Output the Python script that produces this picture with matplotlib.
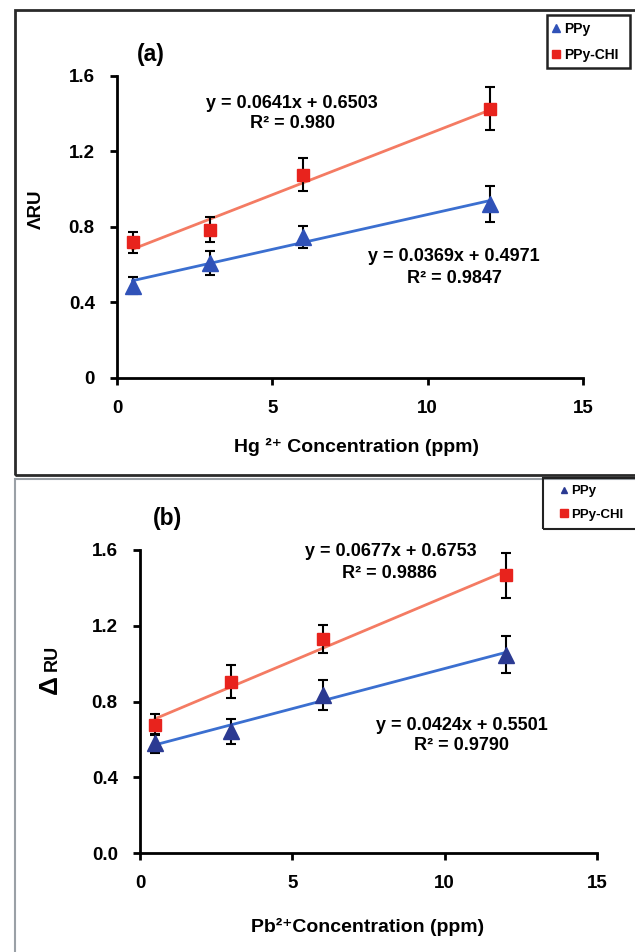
import numpy as np
import matplotlib
matplotlib.use("Agg")
import matplotlib.pyplot as plt
from matplotlib.patches import Rectangle
from matplotlib.lines import Line2D

plt.rcParams['font.family'] = ['Liberation Sans', 'DejaVu Sans']
plt.rcParams['font.weight'] = 'bold'

# ---------------- data ----------------
conc = [0.5, 3, 6, 12]

hg_ppy = [0.489, 0.609, 0.746, 0.923]
hg_ppy_err = [0.044, 0.064, 0.058, 0.094]
hg_chi = [0.718, 0.785, 1.078, 1.427]
hg_chi_err = [0.055, 0.066, 0.085, 0.115]
hg_fit_ppy = [0.0369, 0.4971]
hg_fit_chi = [0.0641, 0.6503]
hg_r2_ppy = "0.9847"
hg_r2_chi = "0.980"

pb_ppy = [0.580, 0.642, 0.835, 1.046]
pb_ppy_err = [0.051, 0.064, 0.079, 0.098]
pb_chi = [0.677, 0.905, 1.129, 1.466]
pb_chi_err = [0.055, 0.086, 0.073, 0.120]
pb_fit_ppy = [0.0424, 0.5501]
pb_fit_chi = [0.0677, 0.6753]
pb_r2_ppy = "0.9790"
pb_r2_chi = "0.9886"

series_names = ["PPy", "PPy-CHI"]
xticks = [0, 5, 10, 15]
yticks = [0, 0.4, 0.8, 1.2, 1.6]

W, H = 635, 952
fig = plt.figure(figsize=(W / 100, H / 100), dpi=100)
fig.patch.set_facecolor('white')

def fx(px):
    return px / W

def fy(py):
    return 1 - py / H

def frame(x0, y0, x1, y1, color, lw):
    fig.patches.append(Rectangle((fx(x0), fy(y1)), fx(x1) - fx(x0), fy(y0) - fy(y1),
                                 transform=fig.transFigure, fill=False,
                                 edgecolor=color, linewidth=lw, zorder=5))

# outer frames
frame(15, 10, 640, 475, '#2a2a2a', 2.0)
frame(15, 479, 640, 960, '#9aa0a6', 1.5)

BLUE_LINE = '#3b6fd0'
RED_LINE = '#f47b63'
RED_MK = '#e8231d'

def panel(rect, ppy, ppy_err, chi, chi_err, fit_ppy, fit_chi, tri_color, ytl):
    ax = fig.add_axes(rect)
    ax.set_facecolor('none')
    xs = np.array([conc[0], conc[-1]])
    ax.plot(xs, fit_chi[0] * xs + fit_chi[1], color=RED_LINE, lw=2, zorder=2)
    ax.plot(xs, fit_ppy[0] * xs + fit_ppy[1], color=BLUE_LINE, lw=2, zorder=2)
    ax.errorbar(conc, chi, yerr=chi_err, fmt='none', ecolor='black',
                elinewidth=1.5, capsize=3.5, capthick=1.5, zorder=3)
    ax.errorbar(conc, ppy, yerr=ppy_err, fmt='none', ecolor='black',
                elinewidth=1.5, capsize=3.5, capthick=1.5, zorder=3)
    ax.plot(conc, chi, 's', color=RED_MK, ms=9, mec=RED_MK, zorder=4)
    ax.plot(conc, ppy, '^', color=tri_color, ms=12, mec=tri_color, zorder=4)
    ax.set_xlim(0, 15)
    ax.set_ylim(0, 1.6)
    ax.set_xticks(xticks)
    ax.set_yticks(yticks)
    ax.set_yticklabels(ytl)
    for s in ['top', 'right']:
        ax.spines[s].set_visible(False)
    for s in ['left', 'bottom']:
        ax.spines[s].set_linewidth(2)
        ax.spines[s].set_color('black')
    ax.tick_params(direction='out', length=5, width=2, labelsize=13.5, pad=11)
    for lab in ax.get_xticklabels() + ax.get_yticklabels():
        lab.set_fontweight('bold')
    return ax

def text(x, y, s, size=13, **kw):
    fig.text(fx(x), fy(y), s, fontsize=size, fontweight='bold',
             ha=kw.pop('ha', 'center'), va=kw.pop('va', 'center'), **kw)

def legend(handles, anchor, size):
    leg = fig.legend(handles, series_names, loc='upper left',
                     bbox_to_anchor=(fx(anchor[0]), fy(anchor[1])), frameon=False,
                     handlelength=0.6, handletextpad=0.25, borderpad=0,
                     borderaxespad=0, labelspacing=0.85,
                     prop={'size': size, 'weight': 'bold'})
    return leg

# ---------------- panel (a) ----------------
panel([fx(117), fy(378), fx(583) - fx(117), fy(76) - fy(378)],
      hg_ppy, hg_ppy_err, hg_chi, hg_chi_err, hg_fit_ppy, hg_fit_chi,
      '#3052b8', ['0', '0.4', '0.8', '1.2', '1.6'])

text(151, 54, '(a)', size=16.5)
text(292, 103, f'y = {hg_fit_chi[0]}x + {hg_fit_chi[1]}')
text(293, 124, f'R² = {hg_r2_chi}')
text(454, 257, f'y = {hg_fit_ppy[0]}x + {hg_fit_ppy[1]}')
text(454, 278, f'R² = {hg_r2_ppy}')
text(357, 447, 'Hg ²⁺ Concentration (ppm)', size=14)
text(36, 209, 'ΛRU', size=13.5, rotation=90)

h_a = [Line2D([], [], ls='none', marker='^', color='#3052b8', ms=6),
       Line2D([], [], ls='none', marker='s', color=RED_MK, ms=6)]
legend(h_a, (552, 22), 10)
frame(547, 15, 630, 68, '#222222', 1.8)

# ---------------- panel (b) ----------------
panel([fx(140), fy(853), fx(597) - fx(140), fy(550) - fy(853)],
      pb_ppy, pb_ppy_err, pb_chi, pb_chi_err, pb_fit_ppy, pb_fit_chi,
      '#2b3a92', ['0.0', '0.4', '0.8', '1.2', '1.6'])

text(168, 519, '(b)', size=16.5)
text(391, 552, f'y = {pb_fit_chi[0]}x + {pb_fit_chi[1]}')
text(389, 574, f'R² = {pb_r2_chi}')
text(462, 725, f'y = {pb_fit_ppy[0]}x + {pb_fit_ppy[1]}')
text(462, 746, f'R² = {pb_r2_ppy}')
text(368, 927, 'Pb²⁺Concentration (ppm)', size=14)
fig.text(fx(57), fy(694), 'Δ', fontsize=19, fontweight='bold', rotation=90,
         rotation_mode='anchor', ha='left', va='baseline')
fig.text(fx(57), fy(671), 'RU', fontsize=13, fontweight='bold', rotation=90,
         rotation_mode='anchor', ha='left', va='baseline')

h_b = [Line2D([], [], ls='none', marker='^', color='#2b3a92', ms=5),
       Line2D([], [], ls='none', marker='s', color=RED_MK, ms=6)]
legend(h_b, (560, 485), 9.5)
frame(543, 478, 645, 529, '#222222', 1.5)

fig.savefig('out.png', dpi=100, facecolor='white')
